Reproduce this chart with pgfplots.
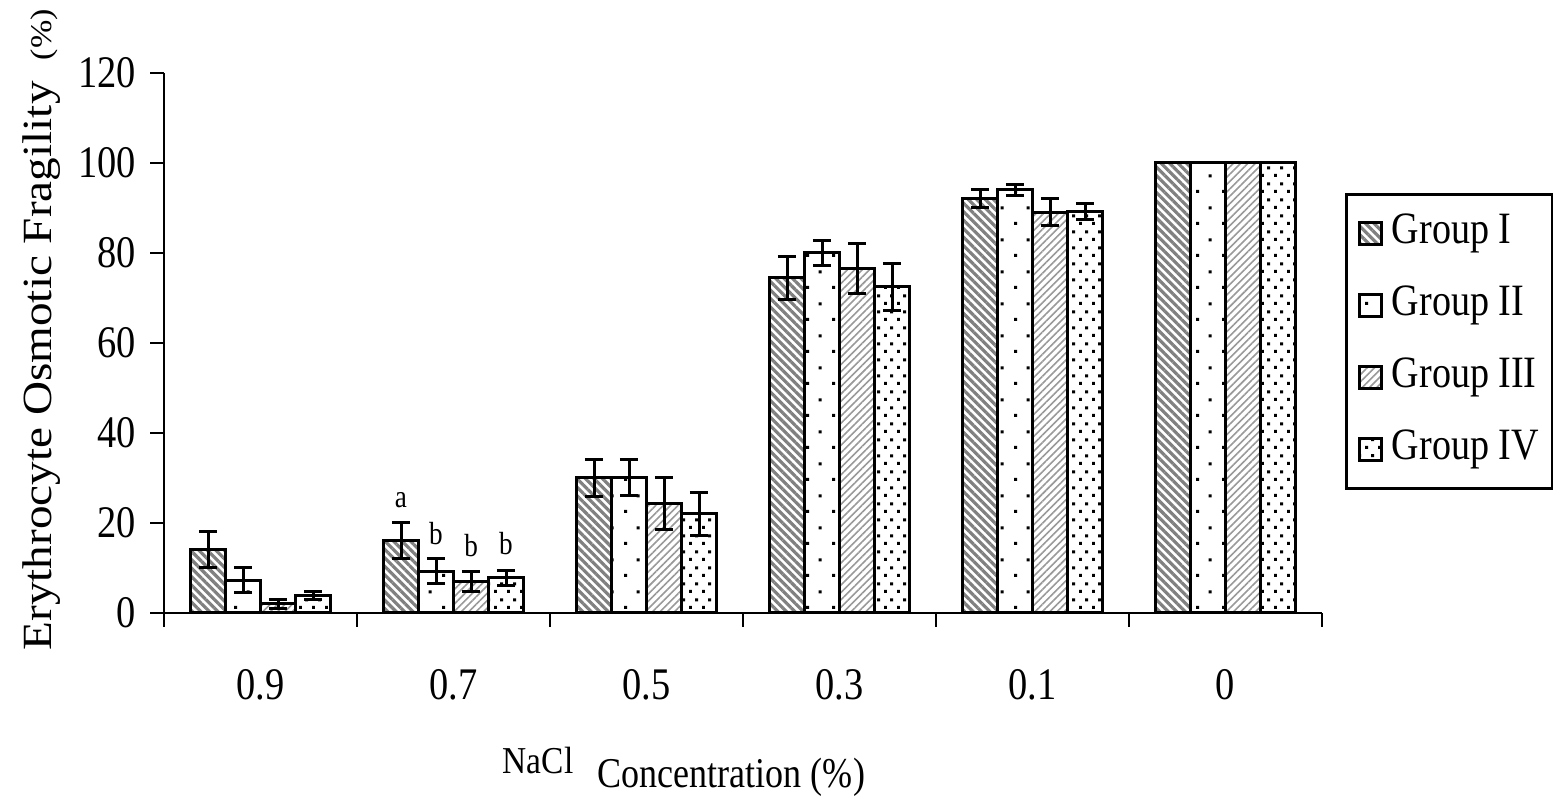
\documentclass[border=0pt]{standalone}
\usepackage{fontspec}
\setmainfont{Liberation Serif}[FakeStretch=0.85]
\newfontfamily\ylfont{Liberation Serif}
\usepackage{graphicx}
\usepackage{pgfplots}
\pgfplotsset{compat=1.18}
\usetikzlibrary{patterns,patterns.meta}

\pgfdeclarepatternformonly{sparsedots}{\pgfqpoint{0pt}{0pt}}{\pgfqpoint{6.5pt}{8pt}}{\pgfqpoint{6.5pt}{8pt}}{%
  \pgfpathrectangle{\pgfqpoint{0pt}{0pt}}{\pgfqpoint{0.8pt}{0.8pt}}%
  \pgfpathrectangle{\pgfqpoint{3.25pt}{4pt}}{\pgfqpoint{0.8pt}{0.8pt}}%
  \pgfusepath{fill}}
\pgfdeclarepatternformonly{densedots}{\pgfqpoint{0pt}{0pt}}{\pgfqpoint{3.25pt}{4pt}}{\pgfqpoint{3.25pt}{4pt}}{%
  \pgfpathrectangle{\pgfqpoint{0pt}{0pt}}{\pgfqpoint{0.8pt}{0.8pt}}%
  \pgfpathrectangle{\pgfqpoint{1.625pt}{2pt}}{\pgfqpoint{0.8pt}{0.8pt}}%
  \pgfusepath{fill}}

\tikzset{
  gA/.style={draw=black, pattern={Lines[angle=-45,distance=1.5pt,line width=0.8pt]}, pattern color=gray},
  gB/.style={draw=black, pattern=sparsedots, pattern color=black},
  gC/.style={draw=black, pattern={Lines[angle=45,distance=1.3pt,line width=0.4pt]}, pattern color=gray!80},
  gD/.style={draw=black, pattern=densedots, pattern color=black},
}
\pgfplotsset{
  eb/.style={/pgfplots/error bars/y dir=both, /pgfplots/error bars/y explicit,
    /pgfplots/error bars/error bar style={line width=0.75pt, black},
    /pgfplots/error bars/error mark options={rotate=90, mark size=2.3pt, line width=0.75pt, black}},
}

\begin{document}
\begin{tikzpicture}[font=\fontsize{11}{13}\selectfont]
\begin{axis}[
  at={(0,0)}, anchor=south west,
  scale only axis, width=289.5pt, height=135pt,
  xmin=-0.5, xmax=5.5, ymin=0, ymax=120,
  axis x line*=bottom, axis y line*=left,
  axis line style={line width=0.7pt, black},
  ybar=0pt, bar width=8.75pt,
  xtick={0,...,5}, xticklabels={0.9,0.7,0.5,0.3,0.1,0},
  minor xtick={-0.5,0.5,...,5.5},
  major x tick style={draw=none},
  minor x tick style={black, line width=0.7pt},
  ytick={0,20,...,120},
  y tick style={black, line width=0.7pt},
  tick align=outside, major tick length=3.5pt, minor tick length=3.5pt,
  xticklabel style={yshift=-7pt},
  tick label style={font=\fontsize{11.3}{13}\selectfont},
  /pgf/number format/assume math mode=true,
  legend style={at={(1.0199,0.7778)}, anchor=north west, draw=black, line width=0.7pt,
    inner xsep=3pt, inner ysep=3.75pt, row sep=6pt, column sep=1.75pt,
    font=\fontsize{11.2}{13}\selectfont,
    nodes={inner xsep=0.5pt, inner ysep=1pt, text height=7.5pt, text depth=2.5pt}},
  legend cell align=left,
]
\addplot[gA, line width=0.75pt, eb,
  legend image code/.code={\draw[gA,line width=0.6pt] (0pt,-2.75pt) rectangle (5.5pt,2.75pt);}]
  coordinates {(0,14) +- (0,4) (1,16) +- (0,4) (2,30) +- (0,4.2) (3,74.5) +- (0,4.8) (4,92) +- (0,2) (5,100) +- (0,0)};
\addplot[gB, line width=0.75pt, eb,
  legend image code/.code={\draw[draw=black,line width=0.6pt] (0pt,-2.75pt) rectangle (5.5pt,2.75pt);}]
  coordinates {(0,7.3) +- (0,2.8) (1,9.3) +- (0,2.7) (2,30) +- (0,4) (3,80) +- (0,2.8) (4,94) +- (0,1.3) (5,100) +- (0,0)};
\addplot[gC, line width=0.75pt, eb,
  legend image code/.code={\draw[gC,line width=0.6pt] (0pt,-2.75pt) rectangle (5.5pt,2.75pt);}]
  coordinates {(0,2) +- (0,1.1) (1,7) +- (0,2.3) (2,24.3) +- (0,5.7) (3,76.5) +- (0,5.5) (4,89) +- (0,3) (5,100) +- (0,0)};
\addplot[gD, line width=0.75pt, eb,
  legend image code/.code={\draw[gD,line width=0.6pt] (0pt,-2.75pt) rectangle (5.5pt,2.75pt);}]
  coordinates {(0,3.8) +- (0,0.9) (1,7.8) +- (0,1.7) (2,22) +- (0,4.8) (3,72.5) +- (0,5.2) (4,89.3) +- (0,1.8) (5,100) +- (0,0)};
\legend{Group I, Group II, Group III, Group IV}
\node[font=\fontsize{8}{9}\selectfont, inner sep=0] at (axis cs:0.728,25.1) {a};
\node[font=\fontsize{8}{9}\selectfont, inner sep=0] at (axis cs:0.909,17.6) {b};
\node[font=\fontsize{8}{9}\selectfont, inner sep=0] at (axis cs:1.091,14.9) {b};
\node[font=\fontsize{8}{9}\selectfont, inner sep=0] at (axis cs:1.272,15.5) {b};
\end{axis}
\node[anchor=base west, inner sep=0, font=\ylfont\fontsize{9.5}{10}\selectfont] at (84.5pt,-40.25pt) {\scalebox{0.88}[1]{NaCl}};
\node[anchor=base west, inner sep=0, font=\fontsize{10.6}{12}\selectfont] at (108.25pt,-43.75pt) {Concentration (\%)};
\node[rotate=90, inner sep=0] at (-30.5pt,70.8pt) {\scalebox{1}[0.88]{\ylfont\fontsize{11.8}{13}\selectfont Erythrocyte Osmotic Fragility\hspace{0.45em}{\fontsize{8.5}{9}\selectfont(\%)}}};
\pgfresetboundingbox
\path[use as bounding box] (-41pt,-47pt) rectangle (347.25pt,153.25pt);
\end{tikzpicture}
\end{document}
